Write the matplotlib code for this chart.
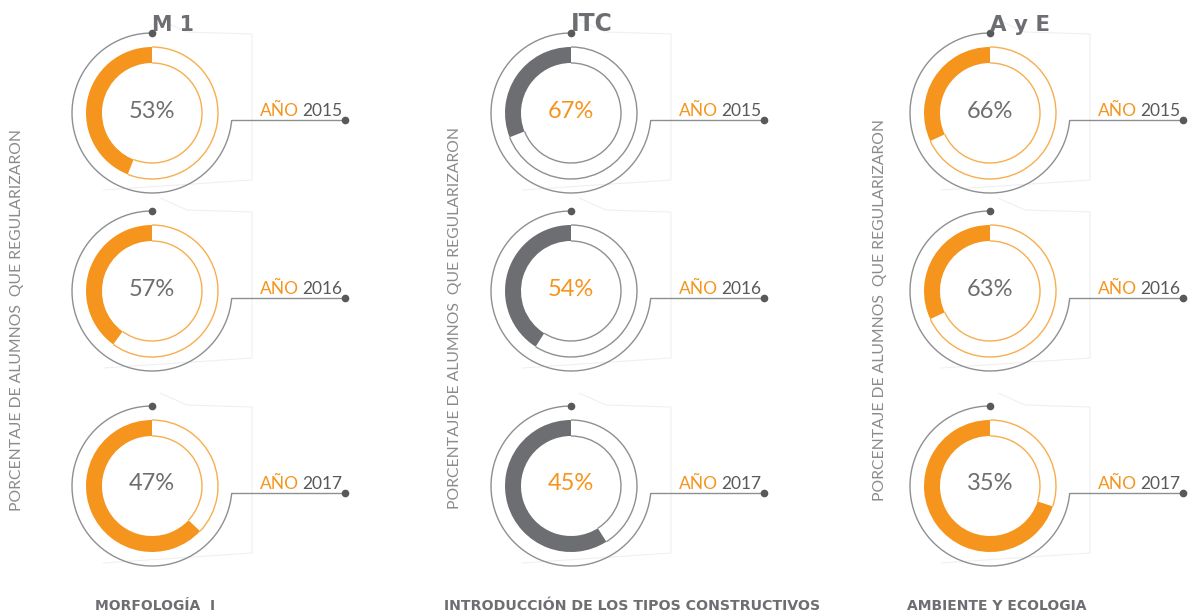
import matplotlib
matplotlib.use("Agg")
import matplotlib.pyplot as plt
from matplotlib.patches import Wedge, Arc, Polygon
import numpy as np

subjects = ['M 1', 'ITC', 'A y E']
subject_names = ['MORFOLOGÍA  I', 'INTRODUCCIÓN DE LOS TIPOS CONSTRUCTIVOS', 'AMBIENTE Y ECOLOGIA']
years = ['2015', '2016', '2017']
pct_m1 = [53, 57, 47]
pct_itc = [67, 54, 45]
pct_aye = [66, 63, 35]
# share of the ring that is filled, as drawn (percent of the circle)
arc_m1 = [44, 40, 63]
arc_itc = [31, 41, 59]
arc_aye = [32, 32, 70]
side_label = 'PORCENTAJE DE ALUMNOS  QUE REGULARIZARON'

W, H = 1192, 614
ORANGE = '#F5951E'
ORANGE_LIGHT = '#F7AE4E'
GREY_FILL = '#6D6E71'
GREY_LINE = '#8E8F92'
GREY_TXT = '#6D6E71'
DARK = '#58595B'

col_x = [152, 571, 990]
row_y = [113, 291, 486]
side_x = [17, 455, 880]
side_y = [320, 318, 310]
name_x = [155, 632, 997]
# widths (px) of the heavy condensed headings in the original
title_w = [35, 35, 50]
name_w = [114, 359, 171]

fill_colors = [ORANGE, GREY_FILL, ORANGE]
outline_colors = [ORANGE_LIGHT, GREY_LINE, ORANGE_LIGHT]
pct_colors = [GREY_TXT, ORANGE, GREY_TXT]

light = ['Lato', 'DejaVu Sans']
heavy = ['DejaVu Sans']


def Y(py):
    return H - py


def draw_ring(ax, cx, cy, pct, share, year, fill_c, outline_c, pct_c):
    y0 = Y(cy)
    r_out, r_in, r_arc = 66, 50, 80
    end = 90 + share * 3.6

    # faint background shape
    shape = [(8, -93), (35, -81), (100, -79), (100, 67), (-49, 77)]
    ax.add_patch(Polygon([(cx + dx, Y(cy + dy)) for dx, dy in shape], closed=False,
                         fill=False, ec='#F0F0F0', lw=0.8, zorder=0))

    ax.add_patch(Wedge((cx, y0), r_out, 90, end, width=r_out - r_in,
                       fc=fill_c, ec='none', zorder=2))
    for r in (r_out, r_in):
        ax.add_patch(Arc((cx, y0), 2 * r, 2 * r, theta1=end, theta2=450,
                         color=outline_c, lw=1.0, zorder=2))

    # outer thin arc with its leader line
    ang = np.degrees(np.arcsin(-7 / r_arc))
    ax.add_patch(Arc((cx, y0), 2 * r_arc, 2 * r_arc, theta1=90, theta2=360 + ang,
                     color=GREY_LINE, lw=1.0, zorder=2))
    x_start = cx + r_arc * np.cos(np.radians(ang))
    ax.plot([x_start, cx + 193], [y0 - 7, y0 - 7], color=GREY_LINE, lw=1.0, zorder=2)
    ax.plot([cx + 193], [y0 - 7], 'o', ms=4.5, color=DARK, zorder=3)
    ax.plot([cx], [y0 + r_arc], 'o', ms=4.5, color=DARK, zorder=3)

    ax.text(cx, y0 + 2, f'{pct}%', ha='center', va='center', fontsize=17,
            color=pct_c, family=light, zorder=4)
    ax.text(cx + 108, y0 - 3, 'AÑO', ha='left', va='baseline', fontsize=12.5,
            color=ORANGE, family=light)
    ax.text(cx + 190, y0 - 3, year, ha='right', va='baseline', fontsize=12.5,
            color=DARK, family=light)


fig = plt.figure(figsize=(W / 100, H / 100), dpi=100)
ax = fig.add_axes([0, 0, 1, 1])
ax.set_xlim(0, W)
ax.set_ylim(0, H)
ax.axis('off')

all_pct = [pct_m1, pct_itc, pct_aye]
all_arc = [arc_m1, arc_itc, arc_aye]

fit = []
for c in range(3):
    cx = col_x[c]
    for r in range(3):
        draw_ring(ax, cx, row_y[r], all_pct[c][r], all_arc[c][r], years[r],
                  fill_colors[c], outline_colors[c], pct_colors[c])

    t = ax.text(cx, Y(31), subjects[c], ha='left', va='baseline', fontsize=19,
                fontweight='heavy', color=GREY_TXT, family=heavy)
    fit.append((t, title_w[c] * 1.2))
    t = ax.text(name_x[c], Y(610), subject_names[c], ha='center', va='baseline',
                fontsize=14, fontweight='heavy', color=GREY_TXT, family=heavy)
    fit.append((t, name_w[c] * 1.05))
    ax.text(side_x[c], Y(side_y[c]), side_label, rotation=90, ha='center',
            va='center', fontsize=11.3, color='#8A8B8D', family=light)

# no condensed face available: size the headings to the original widths
fig.canvas.draw()
renderer = fig.canvas.get_renderer()
for t, w in fit:
    bw = t.get_window_extent(renderer).width
    t.set_fontsize(t.get_fontsize() * w / bw)

fig.savefig('out.png', dpi=100, facecolor='white')
